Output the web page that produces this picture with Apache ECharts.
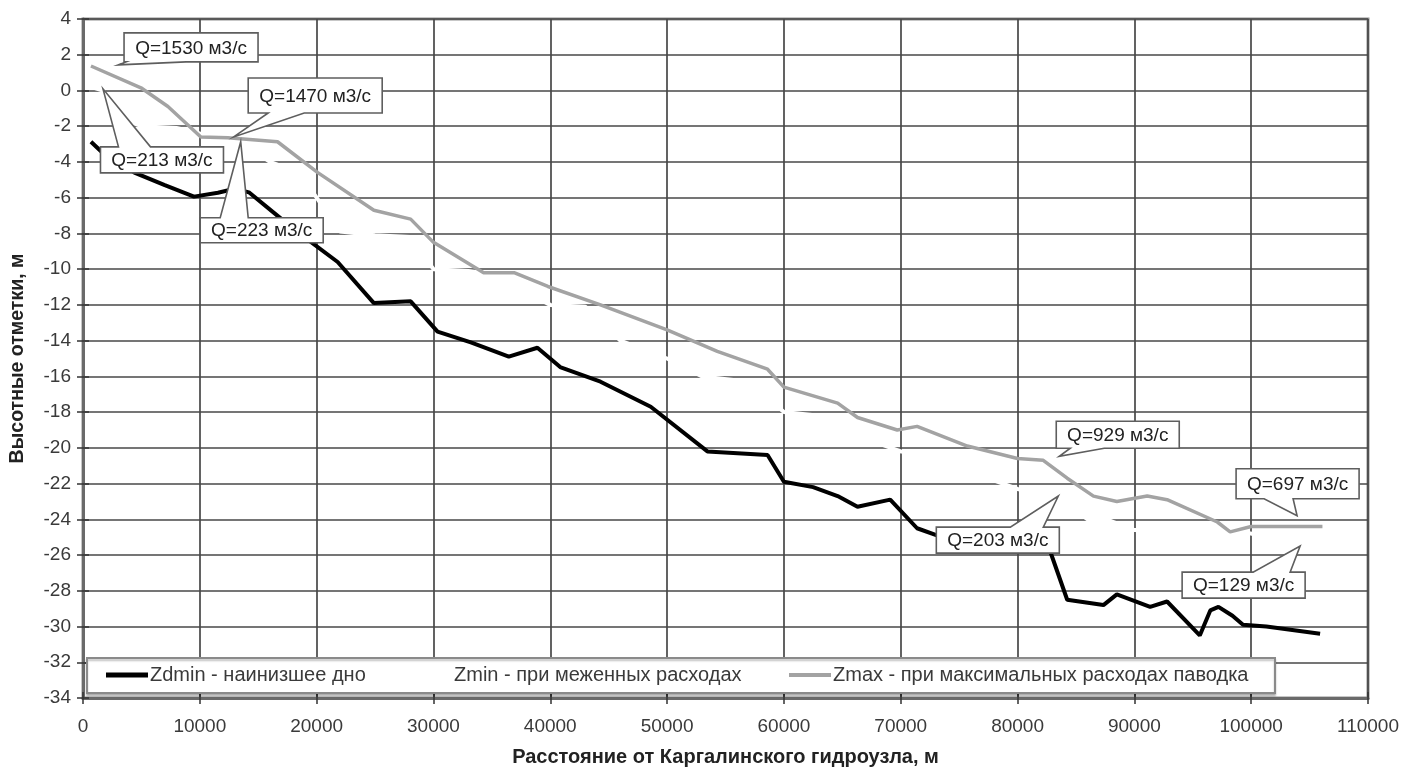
<!DOCTYPE html>
<html>
<head>
<meta charset="utf-8">
<script src="https://cdn.jsdelivr.net/npm/echarts@6/dist/echarts.min.js"></script>
<style>
  html, body { margin: 0; padding: 0; background: #fff; }
  #chart { width: 1405px; height: 772px; }
</style>
</head>
<body>
<div id="chart"></div>
<script>
// ---- Data ----
const seriesNames = [
  'Zdmin - наинизшее дно',
  'Zmin - при меженных расходах',
  'Zmax - при максимальных расходах паводка'
];

const distDmin = [680, 1540, 4400, 7000, 9500, 11550, 13000, 14200, 17000, 19240, 21800, 24900, 28050, 30350, 33200, 36450, 38900, 40900, 44300, 48600, 53450, 58600, 60000, 62500, 64600, 66300, 69100, 71400, 73100, 78000, 82800, 84250, 87350, 88500, 91350, 92800, 95600, 96500, 97200, 98400, 99300, 101300, 105900];
const zdmin     = [-2.87, -3.4, -4.6, -5.3, -5.94, -5.72, -5.5, -5.7, -7.2, -8.35, -9.6, -11.9, -11.8, -13.5, -14.1, -14.9, -14.4, -15.5, -16.3, -17.7, -20.2, -20.4, -21.9, -22.2, -22.7, -23.3, -22.9, -24.5, -24.9, -25.3, -25.8, -28.5, -28.8, -28.2, -28.9, -28.6, -30.5, -29.1, -28.9, -29.4, -29.9, -30.0, -30.4];

const distMin = [680, 1700, 3000, 5000, 8000, 10000, 13500, 16000, 18500, 20000, 22000, 25000, 28000, 30000, 33000, 35000, 40000, 43000, 46000, 50000, 53000, 57000, 60000, 63000, 67000, 70000, 73000, 77000, 80000, 83500, 86000, 88000, 90000, 95000, 100000, 104000, 106000];
const zmin     = [0.2, 0, -1.5, -2, -2.1, -2.4, -2.9, -4, -4.6, -6, -7.9, -8.1, -8.2, -10, -10.1, -10.3, -12, -12.1, -14, -15, -16, -16.3, -18, -18.2, -19.5, -20.2, -20.3, -21.6, -22.3, -22.8, -24, -24.1, -24.6, -24.7, -24.8, -25.5, -25.5];

const distMax = [680, 4960, 7270, 10090, 12400, 16650, 20100, 24900, 28050, 30000, 34300, 36900, 39800, 44300, 50000, 54300, 58600, 60000, 64600, 66300, 69700, 71400, 75700, 80000, 82200, 84250, 86500, 88500, 91100, 92800, 97100, 98200, 100000, 106100];
const zmax     = [1.37, 0.15, -0.9, -2.6, -2.65, -2.87, -4.6, -6.7, -7.2, -8.5, -10.2, -10.2, -10.97, -12.0, -13.4, -14.6, -15.6, -16.6, -17.5, -18.3, -19.0, -18.8, -19.9, -20.6, -20.7, -21.7, -22.7, -23.0, -22.7, -22.9, -24.15, -24.7, -24.4, -24.4];

// axis ticks
const xMin = 0, xMax = 110000, xStep = 10000;
const yMin = -34, yMax = 4, yStep = 2;

// callout annotations: text and the point each one points at
const calloutText = ['Q=1530 м3/с', 'Q=1470 м3/с', 'Q=213 м3/с', 'Q=223 м3/с', 'Q=929 м3/с', 'Q=203 м3/с', 'Q=697 м3/с', 'Q=129 м3/с'];
const calloutX    = [3000, 12900, 1710, 13500, 83570, 83490, 103930, 104190];
const calloutY    = [1.43, -2.6, 0.09, -2.87, -20.47, -22.7, -23.8, -25.5];

// ---- Layout (pixel placement of callout boxes relative to their tip) ----
const calloutLayout = [
  { dx: 73,   dy: -17.5, h: 29, side: 'bottom', b1: 2,  b2: 62 },
  { dx: 81.5, dy: -41.5, h: 35, side: 'bottom', b1: 20, b2: 56 },
  { dx: 59,   dy: 71,    h: 26, side: 'top',    b1: 18, b2: 50 },
  { dx: 21,   dy: 88.5,  h: 25, side: 'top',    b1: 20, b2: 48 },
  { dx: 58.5, dy: -21.5, h: 27, side: 'bottom', b1: 14, b2: 48 },
  { dx: -60.5,dy: 44,    h: 26, side: 'top',    b1: 74, b2: 107 },
  { dx: 0.5,  dy: -32,   h: 30, side: 'bottom', b1: 28, b2: 57 },
  { dx: -56.5,dy: 39,    h: 26, side: 'top',    b1: 71, b2: 108 }
];

const FONT = '"Liberation Sans", Arial, sans-serif';
const zip = (xs, ys) => xs.map((x, i) => [x, ys[i]]);

const chart = echarts.init(document.getElementById('chart'), null, { renderer: 'canvas' });

const gridLine = { show: true, lineStyle: { color: '#474747', width: 1.7 } };
const labelStyle = { color: '#3a3a3a', fontSize: 19, fontFamily: FONT };
const legendText = { color: '#3a3a3a', fontSize: 20, fontFamily: FONT, padding: [0, 0, 0, -3] };

const option = {
  animation: false,
  backgroundColor: '#ffffff',
  grid: { left: 82, right: 37, top: 19, bottom: 72, show: true, borderColor: '#8f8f8f', borderWidth: 3, backgroundColor: 'transparent' },
  xAxis: [
    {
      type: 'value', min: xMin, max: xMax, interval: xStep,
      name: 'Расстояние от Каргалинского гидроузла, м',
      nameLocation: 'middle', nameGap: 49,
      nameTextStyle: { color: '#222', fontSize: 20, fontWeight: 'bold', fontFamily: FONT },
      axisLine: { show: true, onZero: false, lineStyle: { color: '#6a6a6a', width: 3 } },
      axisTick: { show: true, length: 6, lineStyle: { color: '#333', width: 1.5 } },
      axisLabel: Object.assign({ margin: 19, formatter: v => String(v) }, labelStyle),
      splitLine: gridLine
    },
    {
      type: 'value', min: xMin, max: xMax, interval: xStep, position: 'bottom',
      axisLine: { show: false, onZero: false },
      axisTick: { show: true, inside: true, length: 6, lineStyle: { color: '#333', width: 1.5 } },
      axisLabel: { show: false }, splitLine: { show: false }
    }
  ],
  yAxis: [
    {
      type: 'value', min: yMin, max: yMax, interval: yStep,
      name: 'Высотные отметки, м',
      nameLocation: 'middle', nameGap: 55,
      nameTextStyle: { color: '#222', fontSize: 19.5, fontWeight: 'bold', fontFamily: FONT },
      axisLine: { show: true, onZero: false, lineStyle: { color: '#6a6a6a', width: 3 } },
      axisTick: { show: true, length: 6, lineStyle: { color: '#333', width: 1.5 } },
      axisLabel: Object.assign({ margin: 12 }, labelStyle),
      splitLine: gridLine
    },
    {
      type: 'value', min: yMin, max: yMax, interval: yStep, position: 'left',
      axisLine: { show: false, onZero: false },
      axisTick: { show: true, inside: true, length: 6, lineStyle: { color: '#333', width: 1.5 } },
      axisLabel: { show: false }, splitLine: { show: false }
    }
  ],
  legend: [
    { data: [seriesNames[0]], left: 106, top: 665, padding: 0, icon: 'rect', itemWidth: 42, itemHeight: 5, itemGap: 0,
      textStyle: legendText, z: 20 },
    { data: [seriesNames[1]], left: 410, top: 665, padding: 0, icon: 'rect', itemWidth: 42, itemHeight: 4, itemGap: 0,
      textStyle: legendText, z: 20 },
    { data: [seriesNames[2]], left: 789, top: 665, padding: 0, icon: 'rect', itemWidth: 42, itemHeight: 4, itemGap: 0,
      textStyle: legendText, z: 20 }
  ],
  series: [
    { name: seriesNames[0], type: 'line', data: zip(distDmin, zdmin), symbol: 'none', z: 3,
      lineStyle: { color: '#000000', width: 4 }, itemStyle: { color: '#000000' } },
    { name: seriesNames[1], type: 'line', data: zip(distMin, zmin), symbol: 'none', z: 3,
      lineStyle: { color: '#ffffff', width: 4 }, itemStyle: { color: '#ffffff' } },
    { name: seriesNames[2], type: 'line', data: zip(distMax, zmax), symbol: 'none', z: 3,
      lineStyle: { color: '#a3a3a3', width: 3.5 }, itemStyle: { color: '#a3a3a3' } }
  ]
};

chart.setOption(option);

// measure text widths
const mctx = document.createElement('canvas').getContext('2d');
mctx.font = '19px ' + FONT;

function buildGraphics() {
  const els = [];
  // legend frame (inside the plot, bottom)
  els.push({ type: 'rect', shape: { x: 87, y: 658, width: 1188, height: 35 },
    style: { fill: '#ffffff', stroke: '#8a8a8a', lineWidth: 2, shadowColor: 'rgba(0,0,0,0.25)', shadowOffsetY: 2, shadowBlur: 2 }, z: 5 });
  calloutText.forEach((t, i) => {
    const tip = chart.convertToPixel({ xAxisIndex: 0, yAxisIndex: 0 }, [calloutX[i], calloutY[i]]);
    const L = calloutLayout[i];
    const w = Math.round(mctx.measureText(t).width) + 22;
    const h = L.h;
    const cx = tip[0] + L.dx, cy = tip[1] + L.dy;
    const l = cx - w / 2, r = cx + w / 2, tp = cy - h / 2, b = cy + h / 2;
    let pts;
    if (L.side === 'bottom') {
      pts = [[l, tp], [r, tp], [r, b], [l + L.b2, b], tip, [l + L.b1, b], [l, b]];
    } else {
      pts = [[l, tp], [l + L.b1, tp], tip, [l + L.b2, tp], [r, tp], [r, b], [l, b]];
    }
    els.push({ type: 'polygon', shape: { points: pts },
      style: { fill: '#ffffff', stroke: '#5e5e5e', lineWidth: 1.6, lineJoin: 'miter' }, z: 10 });
    els.push({ type: 'text', x: cx, y: cy + 1,
      style: { text: t, font: '19px ' + FONT, fill: '#222', align: 'center', verticalAlign: 'middle' }, z: 11 });
  });
  chart.setOption({ graphic: { elements: els } });
}
buildGraphics();
</script>
</body>
</html>
